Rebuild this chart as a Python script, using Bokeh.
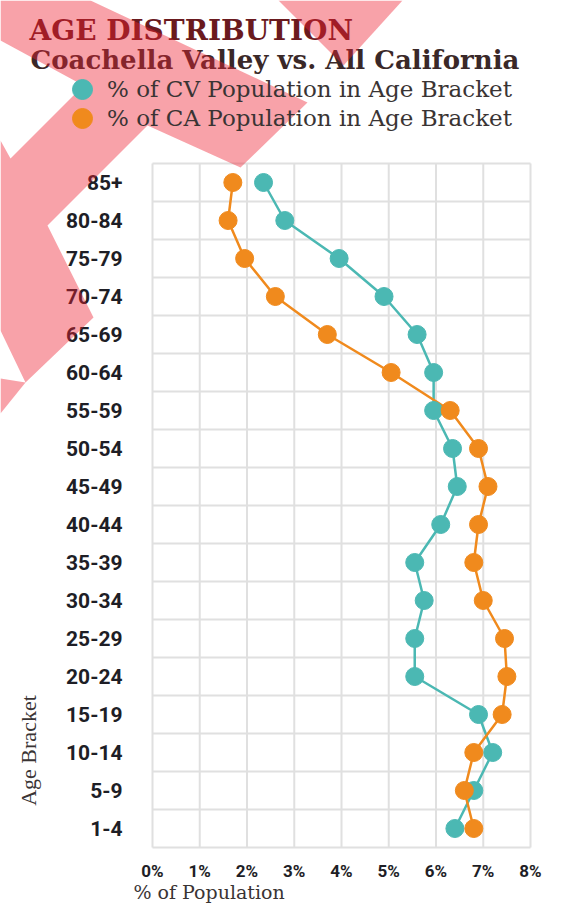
import math
from bokeh.plotting import figure
from bokeh.models import (Range1d, Label, Legend, LegendItem, PolyAnnotation)
from bokeh.core.properties import value
from bokeh.embed import file_html
from bokeh.resources import INLINE

# ---------------- data ----------------
age_brackets = ["85+", "80-84", "75-79", "70-74", "65-69", "60-64", "55-59",
                "50-54", "45-49", "40-44", "35-39", "30-34", "25-29", "20-24",
                "15-19", "10-14", "5-9", "1-4"]
cv_pct = [2.35, 2.8, 3.95, 4.9, 5.6, 5.95, 5.95, 6.35, 6.45, 6.1,
          5.55, 5.75, 5.55, 5.55, 6.9, 7.2, 6.8, 6.4]
ca_pct = [1.7, 1.6, 1.95, 2.6, 3.7, 5.05, 6.3, 6.9, 7.1, 6.9,
          6.8, 7.0, 7.45, 7.5, 7.4, 6.8, 6.6, 6.8]
x_ticks = [0, 1, 2, 3, 4, 5, 6, 7, 8]
x_tick_labels = ["0%", "1%", "2%", "3%", "4%", "5%", "6%", "7%", "8%"]
series_labels = ["% of CV Population in Age Bracket",
                 "% of CA Population in Age Bracket"]

TEAL = "#4bb8b3"
ORANGE = "#f08a1d"
GRID = "#e0e0e0"

n = len(age_brackets)
ypos = [n - 0.5 - i for i in range(n)]
boundaries = list(range(n + 1))
x_min, x_max = x_ticks[0], x_ticks[-1]

# layout (pixels): canvas size and the box that holds the chart
W, H = 546, 903
FL, FT, FW, FH = 152, 163, 378, 684
dx = (x_max - x_min) / FW
dy = n / FH

p = figure(width=W, height=H, title=None,
           x_range=Range1d(x_min - FL * dx, x_min + (W - FL) * dx),
           y_range=Range1d(-(H - FT - FH) * dy, n + FT * dy),
           x_axis_location=None, y_axis_location=None,
           output_backend="svg", toolbar_location=None, min_border=0)
p.grid.visible = False
p.outline_line_color = None
p.background_fill_color = "white"
p.border_fill_color = "white"

# grid lines of the chart box
p.segment(x0=x_ticks, y0=[0] * len(x_ticks), x1=x_ticks, y1=[n] * len(x_ticks),
          line_color=GRID, line_width=2)
p.segment(x0=[x_min] * len(boundaries), y0=boundaries,
          x1=[x_max] * len(boundaries), y1=boundaries,
          line_color=GRID, line_width=2)

# tick labels
p.text(x=[x_min] * n, y=ypos, text=age_brackets, x_offset=-30,
       text_align="right", text_baseline="middle",
       text_font=value("Roboto"), text_font_style="bold",
       text_font_size="21px", text_color="#1e1e26")
p.text(x=x_ticks, y=[-23 * dy] * len(x_ticks), text=x_tick_labels,
       text_align="center", text_baseline="middle",
       text_font=value("Roboto"), text_font_style="bold",
       text_font_size="17px", text_color="#1e1e26")

# series
p.line(cv_pct, ypos, line_color=TEAL, line_width=2.5)
p.line(ca_pct, ypos, line_color=ORANGE, line_width=2.5)
r_cv = p.scatter(cv_pct, ypos, size=18, fill_color=TEAL, line_color=TEAL)
r_ca = p.scatter(ca_pct, ypos, size=18, fill_color=ORANGE, line_color=ORANGE)

# legend: one small legend per series; location is the bottom-left corner
# (pixels from the bottom-left of the canvas)
for label, rend, row_center in ((series_labels[0], r_cv, 89),
                                (series_labels[1], r_ca, 118)):
    lg = Legend(items=[LegendItem(label=label, renderers=[rend])],
                location=(57, H - (row_center + 25)), orientation="vertical",
                glyph_width=50, glyph_height=50, spacing=0, label_standoff=-2,
                padding=0, margin=0, border_line_color=None,
                background_fill_alpha=0,
                label_text_font="DejaVu Serif", label_text_font_size="23px",
                label_text_color="#3a3434")
    p.add_layout(lg)

# titles and axis titles
p.add_layout(Label(x=29, y=30, x_units="canvas", y_units="canvas",
                   text="AGE DISTRIBUTION", text_font="DejaVu Serif",
                   text_font_style="bold", text_font_size="28px",
                   text_color="#6a1a1e", text_baseline="alphabetic"))
p.add_layout(Label(x=30, y=59, x_units="canvas", y_units="canvas",
                   text="Coachella Valley vs. All California",
                   text_font="DejaVu Serif", text_font_style="bold",
                   text_font_size="26px",
                   text_color="#3a2828", text_baseline="alphabetic"))
p.add_layout(Label(x=133, y=891, x_units="canvas", y_units="canvas",
                   text="% of Population", text_font="DejaVu Serif",
                   text_font_size="19px", text_color="#3a3434",
                   text_baseline="middle"))
p.add_layout(Label(x=28, y=750, x_units="canvas", y_units="canvas",
                   text="Age Bracket", text_font="Liberation Serif",
                   text_font_size="22px", text_color="#3a3434",
                   angle=math.pi / 2, text_align="center",
                   text_baseline="middle"))

# decorative pink overlay shapes (canvas pixels)
shapes = [
    [(0, 0), (90, 0), (307, 102), (240, 167), (147, 125), (47, 225), (93, 317),
     (25, 382), (0, 330), (0, 140), (10, 158), (83, 85), (0, 40)],
    [(0, 378), (25, 382), (0, 413)],
    [(278, 0), (402, 0), (343, 65)],
]
for s in shapes:
    p.add_layout(PolyAnnotation(xs=[a for a, b in s], ys=[b for a, b in s],
                                xs_units="canvas", ys_units="canvas",
                                fill_color="#ee2233", fill_alpha=0.42,
                                line_color=None, level="overlay"))

open("out.html", "w").write(file_html(p, INLINE))
